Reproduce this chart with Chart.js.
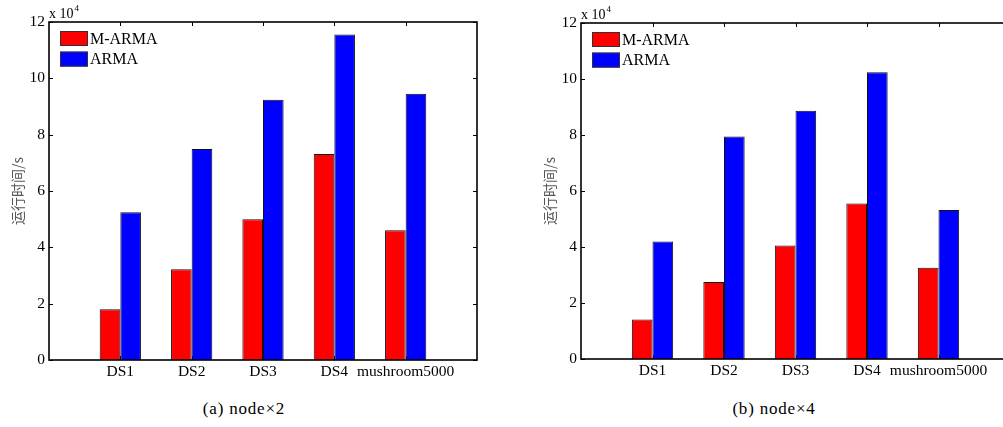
<!DOCTYPE html>
<html>
<head>
<meta charset="utf-8">
<script src="https://cdn.jsdelivr.net/npm/chart.js@4"></script>
<style>
  html, body { margin:0; padding:0; background:#fff; width:1003px; height:427px; overflow:hidden; position:relative; }
  canvas { position:absolute; top:0; }
  #c1 { left:0; }
  #c2 { left:532px; }
  .cap { position:absolute; width:240px; text-align:center; font-family:"Liberation Serif", serif; font-size:17px; line-height:17px; letter-spacing:0.8px; color:#000; top:400px; }
</style>
</head>
<body>
<canvas id="c1" width="490" height="390"></canvas>
<canvas id="c2" width="488" height="389"></canvas>
<div class="cap" id="cap1" style="left:124px"></div>
<div class="cap" id="cap2" style="left:654px"></div>
<script>
// ---- data (values in units of 10^4 s) ----
const categories = ['DS1', 'DS2', 'DS3', 'DS4', 'mushroom5000'];
const seriesNames = ['M-ARMA', 'ARMA'];
const node2_MARMA = [1.80, 3.22, 5.00, 7.31, 4.61];
const node2_ARMA  = [5.25, 7.49, 9.24, 11.56, 9.45];
const node4_MARMA = [1.41, 2.75, 4.05, 5.55, 3.26];
const node4_ARMA  = [4.20, 7.95, 8.87, 10.24, 5.32];
const yTicks = [0, 2, 4, 6, 8, 10, 12];
const yExponent = '4';
const yTitle = '运行时间/s';
const captions = ['(a) node×2', '(b) node×4'];

document.getElementById('cap1').textContent = captions[0];
document.getElementById('cap2').textContent = captions[1];

const SERIF = '"Liberation Serif", "Times New Roman", serif';

const matlabPlugin = {
  id: 'matlabAxes',
  beforeDatasetsDraw(chart) {
    const {ctx, chartArea: a, scales} = chart;
    ctx.save();
    ctx.strokeStyle = '#000';
    ctx.lineWidth = 1;
    const L = 4;
    yTicks.forEach(v => {
      const y = Math.round(scales.y.getPixelForValue(v)) + 0.5;
      ctx.beginPath();
      ctx.moveTo(a.left, y); ctx.lineTo(a.left + L, y);
      ctx.moveTo(a.right, y); ctx.lineTo(a.right - L, y);
      ctx.stroke();
    });
    categories.forEach((c, i) => {
      const x = Math.round(scales.x.getPixelForValue(i + 1)) + 0.5;
      ctx.beginPath();
      ctx.moveTo(x, a.top); ctx.lineTo(x, a.top + L);
      ctx.moveTo(x, a.bottom); ctx.lineTo(x, a.bottom - L);
      ctx.stroke();
    });
    ctx.restore();
  },
  afterDatasetsDraw(chart) {
    const {ctx, chartArea: a} = chart;
    ctx.save();
    ctx.strokeStyle = '#000';
    ctx.lineWidth = 1.6;
    ctx.strokeRect(a.left, a.top, a.right - a.left, a.bottom - a.top);
    ctx.restore();
  },
  afterDraw(chart) {
    const {ctx, chartArea: a} = chart;
    ctx.save();
    // exponent label
    ctx.fillStyle = '#000';
    ctx.textBaseline = 'alphabetic';
    ctx.textAlign = 'left';
    ctx.font = '14px ' + SERIF;
    const base = 'x 10';
    ctx.fillText(base, a.left, a.top - 4);
    const w = ctx.measureText(base).width;
    ctx.font = '9px ' + SERIF;
    ctx.fillText(yExponent, a.left + w + 1, a.top - 11);
    // legend
    ctx.font = '16px ' + SERIF;
    ctx.textBaseline = 'middle';
    chart.data.datasets.forEach((ds, i) => {
      const bx = a.left + 11, by = a.top + 9 + i * 20.6, bw = 28, bh = 15;
      ctx.fillStyle = ds.backgroundColor;
      ctx.fillRect(bx, by, bw, bh);
      ctx.strokeStyle = '#333';
      ctx.lineWidth = 1;
      ctx.strokeRect(bx + 0.5, by + 0.5, bw - 1, bh - 1);
      ctx.fillStyle = '#000';
      ctx.fillText(ds.label, bx + bw + 2, by + bh / 2 + 1);
    });
    ctx.restore();
  }
};

function makeChart(id, mVals, aVals, topPad, rightPad) {
  const toPts = vals => vals.map((v, i) => ({x: i + 1, y: v}));
  return new Chart(document.getElementById(id), {
    type: 'bar',
    data: {
      datasets: [
        { label: seriesNames[0], data: toPts(mVals), backgroundColor: '#ff0000', borderColor: '#111', borderWidth: 1,
          categoryPercentage: 0.578, barPercentage: 1.0 },
        { label: seriesNames[1], data: toPts(aVals), backgroundColor: '#0000ff', borderColor: '#111', borderWidth: 1,
          categoryPercentage: 0.578, barPercentage: 1.0 }
      ]
    },
    options: {
      responsive: false,
      animation: false,
      devicePixelRatio: 1,
      layout: { padding: { top: topPad, right: rightPad, left: 0, bottom: 0 } },
      plugins: { legend: { display: false }, tooltip: { enabled: false } },
      scales: {
        x: {
          type: 'linear',
          min: 0,
          max: categories.length + 1,
          offset: false,
          grid: { display: false, drawTicks: false },
          border: { display: false },
          afterBuildTicks: s => { s.ticks = categories.map((c, i) => ({value: i + 1})); },
          afterFit: s => { s.height = 30; },
          ticks: {
            autoSkip: false, maxRotation: 0, minRotation: 0, padding: 3,
            color: '#000', font: { family: SERIF, size: 15.5 },
            callback: v => categories[v - 1] ?? ''
          }
        },
        y: {
          type: 'linear',
          min: yTicks[0],
          max: yTicks[yTicks.length - 1],
          grid: { display: false, drawTicks: false },
          border: { display: false },
          afterBuildTicks: s => { s.ticks = yTicks.map(v => ({value: v})); },
          afterFit: s => { s.width = 49; },
          ticks: { padding: 4, color: '#000', font: { family: SERIF, size: 15.5 }, callback: v => String(v) },
          title: {
            display: true, text: yTitle, color: '#555',
            font: { family: '"Noto Sans CJK SC", sans-serif', size: 14 },
            padding: { top: 9, bottom: 0 }
          }
        }
      }
    },
    plugins: [matlabPlugin]
  });
}

makeChart('c1', node2_MARMA, node2_ARMA, 22, 13);
makeChart('c2', node4_MARMA, node4_ARMA, 23, 10);
</script>
</body>
</html>
